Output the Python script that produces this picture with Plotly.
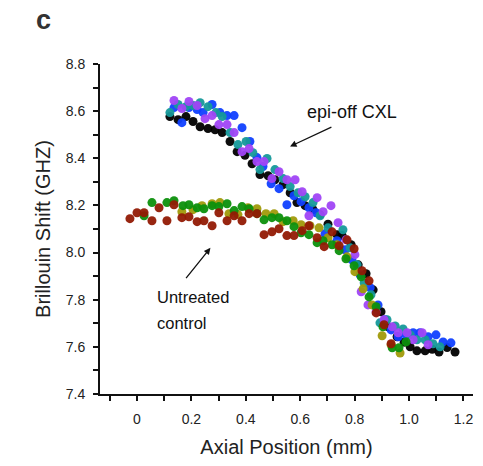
import plotly.graph_objects as go

# ---- epi-off CXL series ----
black_x = [0.121, 0.151, 0.180, 0.206, 0.232, 0.261, 0.287, 0.313, 0.342, 0.368, 0.397, 0.423, 0.452, 0.482,
           0.507, 0.537, 0.563, 0.588, 0.618, 0.647, 0.673, 0.702, 0.735, 0.754, 0.787, 0.813, 0.842, 0.868,
           0.897, 0.923, 0.956, 0.982, 1.004, 1.029, 1.059, 1.085, 1.110, 1.140, 1.169]
black_y = [8.577, 8.564, 8.577, 8.556, 8.534, 8.526, 8.521, 8.509, 8.471, 8.428, 8.413, 8.377, 8.331, 8.326,
           8.309, 8.288, 8.254, 8.212, 8.199, 8.182, 8.160, 8.120, 8.076, 8.072, 8.033, 7.948, 7.910, 7.842,
           7.749, 7.685, 7.643, 7.620, 7.600, 7.583, 7.583, 7.590, 7.578, 7.597, 7.578]

blue_x = [0.136, 0.165, 0.191, 0.221, 0.243, 0.276, 0.305, 0.331, 0.357, 0.386, 0.415, 0.441, 0.463, 0.493,
          0.522, 0.551, 0.577, 0.603, 0.632, 0.658, 0.691, 0.735, 0.765, 0.790, 0.820, 0.857, 0.886, 0.912,
          0.934, 0.960, 0.989, 1.015, 1.040, 1.070, 1.099, 1.125, 1.154]
blue_y = [8.615, 8.551, 8.615, 8.607, 8.594, 8.628, 8.594, 8.581, 8.581, 8.530, 8.471, 8.403, 8.365, 8.292,
          8.271, 8.203, 8.241, 8.216, 8.190, 8.169, 8.080, 8.050, 8.012, 7.969, 7.906, 7.851, 7.778, 7.715,
          7.672, 7.643, 7.651, 7.660, 7.660, 7.643, 7.651, 7.621, 7.617]

teal_x = [0.121, 0.151, 0.180, 0.206, 0.232, 0.261, 0.290, 0.313, 0.342, 0.371, 0.401, 0.426, 0.452, 0.478,
          0.507, 0.537, 0.563, 0.592, 0.618, 0.647, 0.673, 0.702, 0.757, 0.783, 0.809, 0.835, 0.860, 0.893,
          0.919, 0.949, 0.978, 1.004, 1.029, 1.059, 1.088, 1.114]
teal_y = [8.594, 8.628, 8.619, 8.624, 8.636, 8.619, 8.594, 8.577, 8.509, 8.458, 8.471, 8.424, 8.352, 8.399,
          8.352, 8.314, 8.280, 8.254, 8.237, 8.212, 8.156, 8.105, 8.097, 8.020, 7.948, 7.872, 7.821, 7.702,
          7.715, 7.689, 7.676, 7.651, 7.630, 7.630, 7.613, 7.600]

purple_x = [0.136, 0.165, 0.191, 0.221, 0.250, 0.276, 0.301, 0.331, 0.357, 0.386, 0.412, 0.441, 0.467, 0.496,
            0.522, 0.551, 0.581, 0.607, 0.632, 0.662, 0.684, 0.713, 0.739, 0.768, 0.801, 0.824, 0.849, 0.879,
            0.908, 0.938, 0.960, 0.993, 1.015, 1.048, 1.070]
purple_y = [8.645, 8.611, 8.641, 8.624, 8.568, 8.581, 8.543, 8.543, 8.509, 8.428, 8.441, 8.386, 8.386, 8.314,
            8.343, 8.309, 8.309, 8.258, 8.156, 8.233, 8.173, 8.199, 8.127, 8.054, 7.991, 7.834, 7.778, 7.749,
            7.715, 7.685, 7.660, 7.660, 7.630, 7.660, 7.609]

# ---- Untreated control series ----
olive_x = [0.165, 0.206, 0.239, 0.276, 0.305, 0.338, 0.371, 0.408, 0.441, 0.474, 0.504, 0.537, 0.574, 0.603,
           0.636, 0.669, 0.702, 0.735, 0.772, 0.801, 0.831, 0.864, 0.901, 0.934, 0.967]
olive_y = [8.173, 8.182, 8.199, 8.207, 8.212, 8.165, 8.161, 8.190, 8.186, 8.165, 8.165, 8.131, 8.135, 8.118,
           8.114, 8.105, 8.063, 8.033, 7.982, 7.919, 7.846, 7.778, 7.647, 7.609, 7.574]

green_x = [0.026, 0.055, 0.110, 0.136, 0.169, 0.191, 0.221, 0.246, 0.276, 0.301, 0.331, 0.357, 0.386, 0.412,
           0.441, 0.467, 0.496, 0.522, 0.551, 0.577, 0.603, 0.632, 0.662, 0.684, 0.717, 0.743, 0.768, 0.798,
           0.824, 0.853, 0.879, 0.904, 0.938, 0.963, 0.989]
green_y = [8.156, 8.212, 8.212, 8.220, 8.199, 8.203, 8.190, 8.186, 8.199, 8.195, 8.207, 8.178, 8.195, 8.186,
           8.165, 8.139, 8.148, 8.148, 8.135, 8.110, 8.084, 8.076, 8.042, 8.050, 8.033, 8.008, 7.974, 7.944,
           7.897, 7.812, 7.770, 7.685, 7.596, 7.596, 7.621]

red_x = [-0.026, 0.000, 0.026, 0.055, 0.081, 0.110, 0.136, 0.165, 0.191, 0.221, 0.246, 0.276, 0.301, 0.331,
         0.357, 0.386, 0.412, 0.441, 0.467, 0.496, 0.522, 0.551, 0.577, 0.607, 0.632, 0.662, 0.688, 0.717,
         0.743, 0.772, 0.798, 0.827, 0.853, 0.879, 0.908, 0.934]
red_y = [8.144, 8.169, 8.169, 8.135, 8.190, 8.135, 8.203, 8.148, 8.152, 8.131, 8.135, 8.114, 8.169, 8.135,
         8.156, 8.135, 8.165, 8.165, 8.076, 8.088, 8.101, 8.072, 8.072, 8.093, 8.114, 8.063, 8.025, 8.088,
         8.029, 8.054, 8.016, 7.923, 7.880, 7.744, 7.694, 7.613]

x_ticks = [0, 0.2, 0.4, 0.6, 0.8, 1.0, 1.2]
x_tick_labels = ["0", "0.2", "0.4", "0.6", "0.8", "1.0", "1.2"]
y_ticks = [7.4, 7.6, 7.8, 8.0, 8.2, 8.4, 8.6, 8.8]
y_tick_labels = ["7.4", "7.6", "7.8", "8.0", "8.2", "8.4", "8.6", "8.8"]

FONT = "Liberation Sans, Arial, sans-serif"

series = [
    (black_x, black_y, "#000000"),
    (blue_x, blue_y, "#1040ff"),
    (teal_x, teal_y, "#15999a"),
    (purple_x, purple_y, "#a045f5"),
    (olive_x, olive_y, "#a09a0a"),
    (green_x, green_y, "#0c900c"),
    (red_x, red_y, "#921a04"),
]

fig = go.Figure()
for xs, ys, col in series:
    fig.add_trace(go.Scatter(x=xs, y=ys, mode="markers",
                             marker=dict(size=9, color=col, opacity=0.95, line=dict(width=0)),
                             showlegend=False, hoverinfo="skip", cliponaxis=False))

fig.update_layout(
    width=483, height=466,
    margin=dict(l=100, r=10, t=64, b=72, autoexpand=False),
    paper_bgcolor="white", plot_bgcolor="white",
    font=dict(family=FONT, color="#222222"),
)

fig.update_xaxes(
    range=[-0.136, 1.235], showgrid=False, zeroline=False, automargin=False,
    showline=True, linecolor="#111111", linewidth=2,
    ticks="outside", ticklen=5, tickwidth=1.5, tickcolor="#111111",
    tickvals=x_ticks, ticktext=x_tick_labels, tickfont=dict(size=14, color="#222222"),
    ticklabelstandoff=6,
    minor=dict(ticks="outside", ticklen=5, tickwidth=1.5, tickcolor="#111111", dtick=0.1),
    title=dict(text="Axial Position (mm)", font=dict(size=20, color="#222222"), standoff=14),
)
fig.update_yaxes(
    range=[7.4, 8.8], showgrid=False, zeroline=False, automargin=False,
    showline=True, linecolor="#111111", linewidth=2,
    ticks="outside", ticklen=5, tickwidth=1.5, tickcolor="#111111",
    tickvals=y_ticks, ticktext=y_tick_labels, tickfont=dict(size=14, color="#222222"),
    ticklabelstandoff=5,
    minor=dict(ticks="outside", ticklen=5, tickwidth=1.5, tickcolor="#111111", dtick=0.1),
    title=dict(text="Brillouin Shift (GHZ)", font=dict(size=20, color="#222222"), standoff=10),
)

# panel label
fig.add_annotation(text="<b>c</b>", xref="paper", yref="paper", x=-0.177, y=1.133,
                   xanchor="left", yanchor="middle", showarrow=False,
                   font=dict(size=27, color="#333333", family=FONT))

# text labels
fig.add_annotation(text="epi-off CXL", x=0.618, y=8.598, xref="x", yref="y",
                   xanchor="left", yanchor="middle", showarrow=False,
                   font=dict(size=18, color="#111111", family=FONT))
fig.add_annotation(text="Untreated", x=0.066, y=7.812, xref="x", yref="y",
                   xanchor="left", yanchor="middle", showarrow=False,
                   font=dict(size=16.5, color="#111111", family=FONT))
fig.add_annotation(text="control", x=0.066, y=7.702, xref="x", yref="y",
                   xanchor="left", yanchor="middle", showarrow=False,
                   font=dict(size=16.5, color="#111111", family=FONT))

# arrows
fig.add_annotation(x=0.5625, y=8.45, ax=0.72, ay=8.535, xref="x", yref="y", axref="x", ayref="y",
                   text="", showarrow=True, arrowhead=2, arrowsize=1, arrowwidth=1.3, arrowcolor="#111111")
fig.add_annotation(x=0.27, y=8.02, ax=0.176, ay=7.885, xref="x", yref="y", axref="x", ayref="y",
                   text="", showarrow=True, arrowhead=2, arrowsize=1, arrowwidth=1.3, arrowcolor="#111111")

# remove the browser's default 8px body margin so the figure fills the window exactly
fig.write_html("out.html", config={"displayModeBar": False},
               post_script="document.body.style.margin='0';")
